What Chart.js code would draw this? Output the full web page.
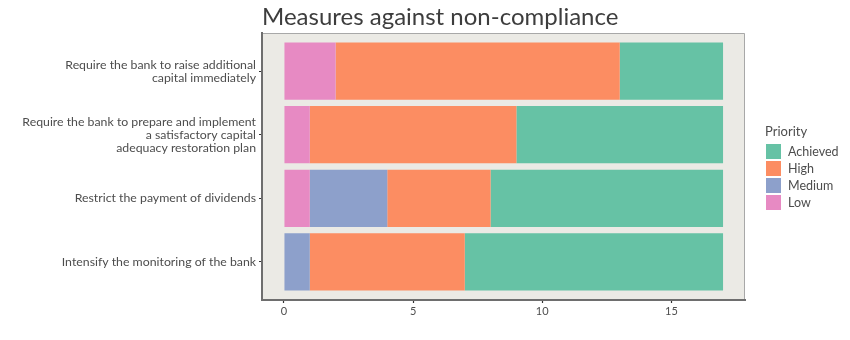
<!DOCTYPE html>
<html>
<head>
<meta charset="utf-8">
<script src="https://cdn.jsdelivr.net/npm/chart.js@4"></script>
<style>
  html, body { margin: 0; padding: 0; background: #fff; }
  #wrap { width: 850px; height: 340px; }
</style>
</head>
<body>
<div id="wrap"><canvas id="chart" width="850" height="340"></canvas></div>
<script>
const FONT = 'Lato';
const TITLE = 'Measures against non-compliance';
const LEGEND_TITLE = 'Priority';

// categories, top to bottom
const measures = [
  ['Require the bank to raise additional', 'capital immediately'],
  ['Require the bank to prepare and implement', 'a satisfactory capital', 'adequacy restoration plan'],
  ['Restrict the payment of dividends'],
  ['Intensify the monitoring of the bank']
];

// counts per priority, same order as measures
const low      = [2, 1, 1, 0];
const medium   = [0, 0, 3, 1];
const high     = [11, 8, 4, 6];
const achieved = [4, 8, 9, 10];

const xTicks = [0, 5, 10, 15];

const colors = { Achieved: '#66C2A5', High: '#FC8D62', Medium: '#8DA0CB', Low: '#E78AC3' };

// stacked left to right: Low, Medium, High, Achieved
const series = [
  { label: 'Low', values: low },
  { label: 'Medium', values: medium },
  { label: 'High', values: high },
  { label: 'Achieved', values: achieved }
];

const datasets = series.map(s => ({
  label: s.label,
  data: s.values.map((v, i) => ({ x: v, y: i + 1 })),
  backgroundColor: colors[s.label],
  borderWidth: 0,
  categoryPercentage: 0.9,
  barPercentage: 1
}));

const panel = {
  id: 'panel',
  beforeDraw(chart) {
    const { ctx, chartArea: a } = chart;
    ctx.save();
    ctx.fillStyle = '#EBEAE5';
    ctx.fillRect(a.left, a.top, a.right - a.left, a.bottom - a.top);
    ctx.strokeStyle = '#A8A8A8';
    ctx.lineWidth = 1;
    ctx.beginPath();
    ctx.moveTo(a.left, a.top + 0.5);
    ctx.lineTo(a.right - 0.5, a.top + 0.5);
    ctx.lineTo(a.right - 0.5, a.bottom);
    ctx.stroke();
    ctx.restore();
  },
  afterDraw(chart) {
    const { ctx, chartArea: a } = chart;
    ctx.save();
    // title
    ctx.fillStyle = '#3D3D3D';
    ctx.font = '24px ' + FONT;
    ctx.textBaseline = 'alphabetic';
    ctx.textAlign = 'left';
    ctx.fillText(TITLE, a.left, 25);
    // legend
    ctx.fillStyle = '#4D4D4D';
    ctx.font = '13px ' + FONT;
    ctx.fillText(LEGEND_TITLE, 765, 136);
    const order = ['Achieved', 'High', 'Medium', 'Low'];
    order.forEach((name, i) => {
      const y = 144 + i * 17;
      ctx.fillStyle = colors[name];
      ctx.fillRect(766, y, 15, 15);
      ctx.fillStyle = '#4D4D4D';
      ctx.font = '12.5px ' + FONT;
      ctx.textBaseline = 'middle';
      ctx.fillText(name, 788, y + 8);
    });
    ctx.restore();
  }
};

new Chart(document.getElementById('chart'), {
  type: 'bar',
  data: { datasets },
  plugins: [panel],
  options: {
    responsive: false,
    animation: false,
    indexAxis: 'y',
    layout: { padding: { top: 33, right: 105, left: 0, bottom: 0 } },
    plugins: { legend: { display: false }, tooltip: { enabled: false } },
    scales: {
      x: {
        type: 'linear',
        stacked: true,
        min: -0.85,
        max: 17.85,
        afterBuildTicks: s => { s.ticks = xTicks.map(v => ({ value: v })); },
        afterFit: s => { s.height = 40; },
        ticks: { font: { family: FONT, size: 11 }, color: '#4D4D4D', padding: 2, callback: v => v },
        grid: { drawOnChartArea: false, drawTicks: true, tickLength: 3, tickWidth: 1.2, tickColor: '#333' },
        border: { display: true, color: '#6E6E6E', width: 2 }
      },
      y: {
        type: 'linear',
        stacked: true,
        reverse: true,
        offset: false,
        min: 0.4,
        max: 4.6,
        afterBuildTicks: s => { s.ticks = measures.map((m, i) => ({ value: i + 1 })); },
        afterFit: s => { s.width = 262; },
        ticks: {
          font: { family: FONT, size: 12.3, lineHeight: 1.06 },
          color: '#4D4D4D',
          padding: 3,
          callback: v => measures[v - 1]
        },
        grid: { offset: false, drawOnChartArea: false, drawTicks: true, tickLength: 3, tickWidth: 1.2, tickColor: '#333' },
        border: { display: true, color: '#6E6E6E', width: 2 }
      }
    }
  }
});
</script>
</body>
</html>
